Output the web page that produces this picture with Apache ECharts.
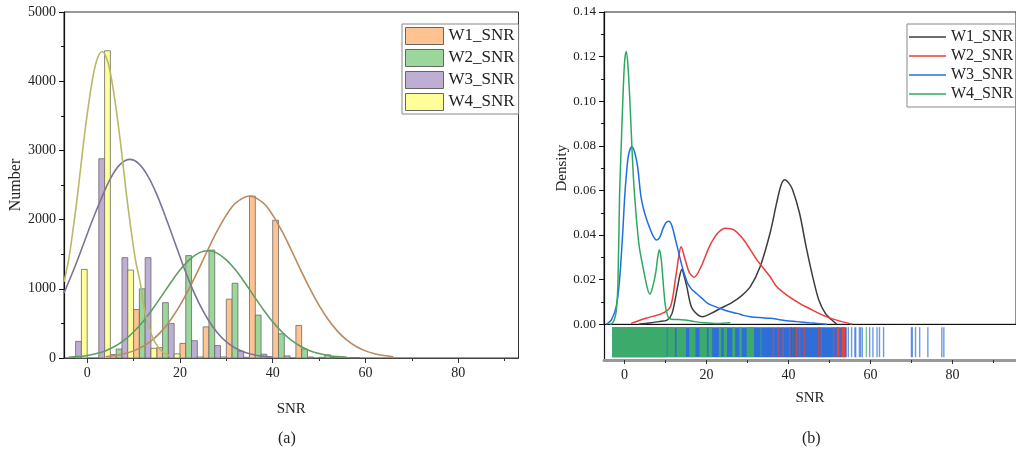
<!DOCTYPE html>
<html>
<head>
<meta charset="utf-8">
<script src="https://cdn.jsdelivr.net/npm/echarts@6/dist/echarts.min.js"></script>
<style>
  html, body { margin: 0; padding: 0; background: #fff; }
  #chart { width: 1016px; height: 454px; }
</style>
</head>
<body>
<div id="chart"></div>
<script>
// ---- data ---------------------------------------------------------------
const seriesNames = ['W1_SNR', 'W2_SNR', 'W3_SNR', 'W4_SNR'];

// histogram bins (start of each 5 dB bin) and counts per series
const binStarts = [-5, 0, 5, 10, 15, 20, 25, 30, 35, 40, 45, 50, 55];
const binWidth = 5;
const w1Counts = [0, 0, 50, 700, 150, 210, 450, 850, 2340, 1990, 470, 10, 0];
const w2Counts = [0, 0, 130, 1000, 800, 1480, 1560, 1080, 620, 350, 130, 45, 5];
const w3Counts = [240, 2880, 1450, 1450, 500, 250, 180, 100, 55, 30, 15, 5, 5];
const w4Counts = [1280, 4440, 1270, 140, 60, 15, 15, 10, 0, 0, 0, 0, 0];

// fitted normal curves over the histograms: [SNR, count]
const w1Fit = [[4, 19], [6, 35], [8, 61], [10, 103], [12, 166], [14, 258], [16, 385], [18, 552], [20, 760], [22, 1005], [24, 1278], [26, 1561], [28, 1832], [30, 2065], [32, 2237], [35, 2340], [38, 2237], [40, 2065], [42, 1832], [44, 1561], [46, 1278], [48, 1005], [50, 760], [52, 552], [54, 385], [56, 258], [58, 166], [60, 103], [62, 61], [64, 35], [66, 19]];
const w2Fit = [[-4, 11], [-2, 20], [0, 37], [2, 64], [4, 106], [6, 169], [8, 257], [10, 376], [12, 523], [14, 698], [16, 891], [18, 1087], [20, 1270], [22, 1418], [24, 1516], [26, 1550], [28, 1516], [30, 1418], [32, 1270], [34, 1087], [36, 891], [38, 698], [40, 523], [42, 376], [44, 257], [46, 169], [48, 106], [50, 64], [52, 37], [54, 20], [56, 11]];
const w3Fit = [[-5, 940], [-3, 1260], [-1, 1610], [1, 1970], [3, 2298], [5, 2592], [7, 2790], [9.2, 2870], [11, 2817], [13, 2640], [15, 2364], [17, 2020], [19, 1651], [21, 1283], [23, 953], [25, 677], [27, 459], [29, 297], [31, 183], [33, 109], [35, 61], [37, 33], [40, 12]];
const w4Fit = [[-5, 1100], [-4, 1420], [-3, 1880], [-2, 2400], [-1, 2990], [0, 3520], [1, 3970], [2, 4290], [3.2, 4430], [4.4, 4290], [5.4, 3970], [6.4, 3520], [7.4, 2990], [8.4, 2400], [9.4, 1880], [10.4, 1420], [11.4, 1100], [12.4, 680], [13.4, 430], [14.4, 255], [15.4, 150], [16.4, 80], [17.8, 30]];

// kernel density curves: [SNR, density]
const w1Kde = [[3.6, 0.0001], [6, 0.0006], [8.4, 0.0012], [10.4, 0.0019], [11.6, 0.0049], [12.8, 0.0154], [13.5, 0.022], [14, 0.0247], [14.5, 0.022], [15.2, 0.0169], [16.3, 0.0079], [17.9, 0.0042], [19.1, 0.0034], [21.1, 0.0049], [23.5, 0.0072], [25.9, 0.0094], [28.3, 0.0124], [30.7, 0.0169], [33.1, 0.0259], [35.5, 0.0408], [37.1, 0.0543], [38.2, 0.0625], [39.1, 0.0648], [40, 0.0635], [41, 0.0603], [42.7, 0.0498], [44.3, 0.0348], [45.9, 0.0214], [47.4, 0.0109], [49, 0.0049], [50.6, 0.0019], [51.8, 0]];
const w2Kde = [[1.6, 0.0004], [5.2, 0.0027], [9.2, 0.0049], [11.2, 0.0079], [12.4, 0.0199], [13.2, 0.03], [13.8, 0.0348], [14.8, 0.0289], [15.9, 0.0229], [17, 0.0211], [18.7, 0.0259], [20.7, 0.0348], [22.7, 0.0408], [24.7, 0.0431], [26.7, 0.0423], [29.1, 0.0378], [32.3, 0.0289], [35.5, 0.0214], [37.1, 0.0169], [39.5, 0.0132], [42.7, 0.0094], [45, 0.0072], [47.4, 0.0049], [49.8, 0.003], [53, 0.0012], [55.6, 0]];
const w3Kde = [[-4.4, 0], [-3.2, 0.002], [-2, 0.008], [-1.2, 0.02], [-0.4, 0.042], [0, 0.0558], [0.5, 0.068], [1, 0.076], [1.8, 0.0797], [2.5, 0.077], [3.2, 0.0707], [3.6, 0.064], [4, 0.0575], [4.6, 0.052], [5.4, 0.047], [6.2, 0.043], [7, 0.0395], [7.8, 0.0378], [8.6, 0.039], [9.3, 0.0425], [10.1, 0.0455], [10.8, 0.0462], [11.5, 0.0445], [12.3, 0.039], [13.1, 0.033], [13.9, 0.027], [14.7, 0.022], [15.5, 0.018], [16.5, 0.0155], [17.5, 0.0139], [19, 0.0115], [20.3, 0.0094], [22.3, 0.0078], [24.3, 0.0064], [26, 0.0055], [27.5, 0.0049], [29, 0.004], [30.7, 0.0034], [33, 0.003], [35.5, 0.0027], [37.5, 0.0022], [39.5, 0.0016], [42, 0.0012], [45, 0.0007], [47, 0.0004], [49.4, 0]];
const w4Kde = [[-3.6, 0], [-3, 0.0005], [-2.5, 0.002], [-2, 0.006], [-1.6, 0.018], [-1.2, 0.058], [-0.8, 0.08], [-0.4, 0.1007], [0, 0.117], [0.4, 0.1223], [0.8, 0.117], [1.3, 0.1007], [1.8, 0.08], [2.2, 0.065], [2.8, 0.0498], [3.6, 0.0348], [4.8, 0.0229], [5.6, 0.016], [6.2, 0.0135], [6.9, 0.017], [7.6, 0.0229], [8.1, 0.03], [8.5, 0.0334], [8.9, 0.03], [9.2, 0.0244], [9.6, 0.015], [10, 0.0079], [10.5, 0.004], [10.9, 0.0027], [12, 0.0022], [13.2, 0.0022], [14.8, 0.0019], [17.1, 0.0012], [19.5, 0.0007], [22.7, 0.0004], [25.8, 0.0007]];

// rug marks under the density plot: [from, to] (a single tick when from == to)
const w1Rug = [[40.7, 40.7], [41.5, 41.5], [47.4, 47.4]];
const w3Rug = [[-3, 54.2], [54.6, 54.6], [55.4, 55.4], [56.2, 56.2], [56.4, 56.4], [57.3, 57.3], [57.6, 57.6], [58, 58], [59.8, 59.8], [60.6, 60.6], [61.6, 61.6], [62.2, 62.2], [63.2, 63.2], [70, 70], [70.2, 70.2], [71, 71], [72, 72], [74, 74], [77.4, 77.4], [77.9, 77.9]];
const w4Rug = [[-3, 10.3], [10.5, 12.3], [12.7, 15], [15.8, 17.3], [18.3, 20.1], [20.5, 21.4], [23, 23.6], [24.2, 25], [26.3, 27], [28, 28.6], [29.8, 31.6], [33.3, 33.3], [59, 59]];
const w2Rug = [[36.3, 36.3], [37.5, 37.5], [38.7, 38.7], [40.3, 40.3], [41.9, 41.9], [42.7, 42.7], [43.9, 43.9], [47.4, 47.4], [48, 48], [51, 51], [51.8, 52.4], [53, 53.8]];

// axis ticks
const snrTicks = [0, 20, 40, 60, 80];
const snrMinorTicks = [10, 30, 50, 70, 90];

// ---- styling ------------------------------------------------------------
const FONT = 'Liberation Serif, Times New Roman, serif';
const histColors = ['#FDC391', '#9BD69B', '#BEAED4', '#FFFF99'];
const fitColors = ['#BA8A5E', '#5E9E62', '#7F7394', '#B8B86A'];
const kdeColors = ['#3D3D3D', '#EE3B3B', '#1E6FE6', '#2EA860'];
const rugColors = ['#55606a', '#E8443F', '#2E6ED8', '#3BAA6A'];

function histSeries(i, counts) {
  return {
    type: 'custom',
    name: 'hist:' + seriesNames[i],
    xAxisIndex: 0, yAxisIndex: 0,
    itemStyle: { color: histColors[i] },
    data: binStarts.map((s, k) => [s, counts[k]]),
    encode: { x: 0, y: 1 },
    z: 2,
    renderItem(params, api) {
      const v = api.value(1);
      if (!v) return null;
      const x0 = api.value(0) + i * binWidth / 4;
      const p0 = api.coord([x0, v]);
      const p1 = api.coord([x0 + binWidth / 4, 0]);
      return {
        type: 'rect',
        shape: { x: p0[0], y: p0[1], width: p1[0] - p0[0], height: p1[1] - p0[1] },
        style: { fill: histColors[i], stroke: '#6a6a6a', lineWidth: 0.8 }
      };
    }
  };
}

function fitSeries(i, pts) {
  return {
    type: 'line', name: 'fit:' + seriesNames[i],
    xAxisIndex: 0, yAxisIndex: 0, data: pts,
    smooth: 0.35, symbol: 'none', z: 5,
    lineStyle: { color: fitColors[i], width: 1.6 }
  };
}

function kdeSeries(i, pts) {
  return {
    type: 'line', name: 'kde:' + seriesNames[i],
    xAxisIndex: 2, yAxisIndex: 1, data: pts,
    smooth: 0.3, symbol: 'none', z: 5,
    itemStyle: { color: kdeColors[i] },
    lineStyle: { color: kdeColors[i], width: 1.5 }
  };
}

// rug: dense stretches are solid bands, isolated marks are thin semi-transparent ticks
function rugSeries(i, marks, order) {
  return {
    type: 'custom', name: 'rug:' + seriesNames[i],
    xAxisIndex: 4, yAxisIndex: 2,
    data: marks, encode: { x: [0, 1] }, z: 2 + order,
    renderItem(params, api) {
      const a = api.coord([api.value(0), 0.92]);
      const b = api.coord([api.value(1), 0.08]);
      const band = api.value(1) > api.value(0);
      return {
        type: 'rect',
        shape: { x: a[0] - (band ? 0 : 0.7), y: a[1], width: Math.max(b[0] - a[0], 1.4), height: b[1] - a[1] },
        style: { fill: rugColors[i], opacity: band ? 1 : 0.7 }
      };
    }
  };
}

const labelText = { fontFamily: FONT, fontSize: 14, color: '#222' };

const option = {
  animation: false,
  backgroundColor: '#fff',
  textStyle: { fontFamily: FONT },
  grid: [
    { left: 64, top: 12, width: 454.5, height: 346, show: true, borderColor: '#333', borderWidth: 1 },
    { left: 604, top: 12, width: 420, height: 312.3, show: true, borderColor: '#222', borderWidth: 1 },
    { left: 604, top: 324.3, width: 420, height: 35.7 }
  ],
  xAxis: [
    { gridIndex: 0, type: 'value', min: -5, max: 93, position: 'bottom',
      name: 'SNR', nameLocation: 'middle', nameGap: 44,
      nameTextStyle: { fontFamily: FONT, fontSize: 15, color: '#222' },
      axisLine: { onZero: false, lineStyle: { color: '#444', width: 1.2 } },
      axisTick: { customValues: snrTicks, length: 5, lineStyle: { color: '#333' } },
      axisLabel: { customValues: snrTicks, margin: 8, ...labelText },
      splitLine: { show: false } },
    { gridIndex: 0, type: 'value', min: -5, max: 93, position: 'bottom',
      axisLine: { show: false, onZero: false },
      axisTick: { customValues: snrMinorTicks, length: 3, lineStyle: { color: '#333' } },
      axisLabel: { show: false }, splitLine: { show: false } },
    { gridIndex: 1, type: 'value', min: -5, max: 95.5, position: 'bottom',
      axisLine: { onZero: false, lineStyle: { color: '#111', width: 1.2 } },
      axisTick: { show: false }, axisLabel: { show: false }, splitLine: { show: false } },
    { gridIndex: 2, type: 'value', min: -5, max: 95.5, position: 'bottom',
      axisLine: { show: false, onZero: false },
      axisTick: { customValues: snrMinorTicks, length: 3, lineStyle: { color: '#333' } },
      axisLabel: { show: false }, splitLine: { show: false } },
    { gridIndex: 2, type: 'value', min: -5, max: 95.5, position: 'bottom',
      name: 'SNR', nameLocation: 'middle', nameGap: 31,
      nameTextStyle: { fontFamily: FONT, fontSize: 15, color: '#222' },
      axisLine: { onZero: false, lineStyle: { color: '#999', width: 3 } },
      axisTick: { customValues: snrTicks, length: 4, lineStyle: { color: '#333' } },
      axisLabel: { customValues: snrTicks, margin: 8, ...labelText },
      splitLine: { show: false } }
  ],
  yAxis: [
    { gridIndex: 0, type: 'value', min: 0, max: 5000, interval: 1000,
      name: 'Number', nameLocation: 'middle', nameGap: 37, nameRotate: 90,
      nameTextStyle: { fontFamily: FONT, fontSize: 16, color: '#222' },
      axisLine: { show: true, onZero: false, lineStyle: { color: '#111', width: 1.2 } },
      axisTick: { show: true, length: 5, lineStyle: { color: '#111' } },
      minorTick: { show: true, splitNumber: 2, length: 3, lineStyle: { color: '#111' } },
      axisLabel: { margin: 8, formatter: v => String(v), ...labelText },
      splitLine: { show: false } },
    { gridIndex: 1, type: 'value', min: 0, max: 0.14, interval: 0.02,
      name: 'Density', nameLocation: 'middle', nameGap: 33, nameRotate: 90,
      nameTextStyle: { fontFamily: FONT, fontSize: 15, color: '#222' },
      axisLine: { show: true, onZero: false, lineStyle: { color: '#111', width: 1.2 } },
      axisTick: { show: true, length: 5, lineStyle: { color: '#111' } },
      minorTick: { show: true, splitNumber: 2, length: 3, lineStyle: { color: '#111' } },
      axisLabel: { margin: 8, formatter: v => v.toFixed(2), ...labelText, fontSize: 13 },
      splitLine: { show: false } },
    { gridIndex: 2, type: 'value', min: 0, max: 1,
      axisLine: { show: true, onZero: false, lineStyle: { color: '#111', width: 1.2 } },
      axisTick: { show: false }, axisLabel: { show: false }, splitLine: { show: false } }
  ],
  legend: [
    { left: 402, top: 24, orient: 'vertical',
      padding: [3, 4, 3, 3], itemWidth: 38, itemHeight: 17, itemGap: 4,
      borderColor: '#888', borderWidth: 1, selectedMode: false,
      formatter: n => n.split(':')[1],
      textStyle: { fontFamily: FONT, fontSize: 17, color: '#222', lineHeight: 17 },
      data: seriesNames.map((n, i) => ({
        name: 'hist:' + n, icon: 'rect',
        itemStyle: { color: histColors[i], borderColor: '#666', borderWidth: 1 }
      })) },
    { left: 907, top: 24, orient: 'vertical',
      padding: [5, 4, 5, 2], itemWidth: 37, itemHeight: 1.6, itemGap: 3,
      borderColor: '#888', borderWidth: 1, selectedMode: false,
      formatter: n => n.split(':')[1],
      textStyle: { fontFamily: FONT, fontSize: 16, color: '#222', lineHeight: 16 },
      data: seriesNames.map((n, i) => ({
        name: 'kde:' + n, icon: 'rect', itemStyle: { color: kdeColors[i] }
      })) }
  ],
  graphic: [
    { type: 'text', left: 278, top: 431, style: { text: '(a)', font: '16px ' + FONT, fill: '#222' } },
    { type: 'text', left: 802, top: 431, style: { text: '(b)', font: '16px ' + FONT, fill: '#222' } }
  ],
  series: [
    histSeries(0, w1Counts), histSeries(1, w2Counts), histSeries(2, w3Counts), histSeries(3, w4Counts),
    fitSeries(0, w1Fit), fitSeries(1, w2Fit), fitSeries(2, w3Fit), fitSeries(3, w4Fit),
    kdeSeries(0, w1Kde), kdeSeries(1, w2Kde), kdeSeries(2, w3Kde), kdeSeries(3, w4Kde),
    rugSeries(2, w3Rug, 0), rugSeries(3, w4Rug, 1), rugSeries(0, w1Rug, 2), rugSeries(1, w2Rug, 3)
  ]
};

const chart = echarts.init(document.getElementById('chart'), null, { renderer: 'canvas' });
chart.setOption(option);
</script>
</body>
</html>
